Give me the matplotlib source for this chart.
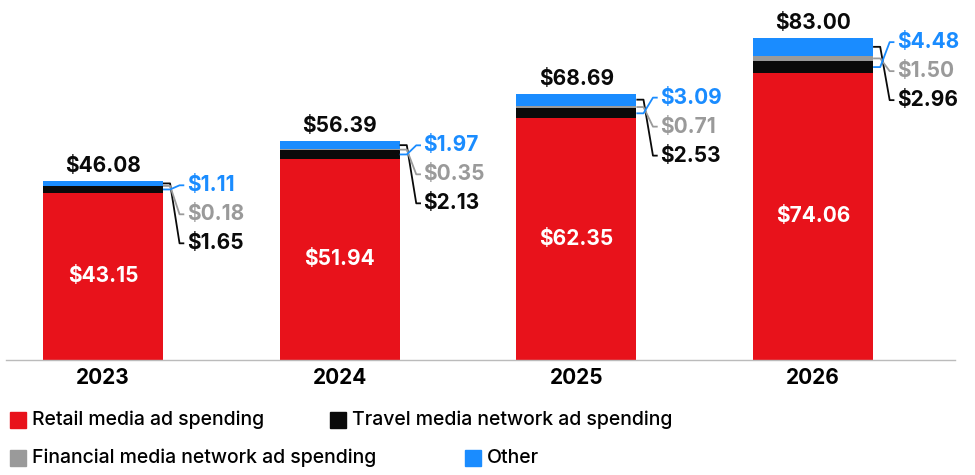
import matplotlib
matplotlib.use("Agg")
import matplotlib.pyplot as plt
from matplotlib.patches import Rectangle

years = ["2023", "2024", "2025", "2026"]
retail = [43.15, 51.94, 62.35, 74.06]
travel = [1.65, 2.13, 2.53, 2.96]
financial = [0.18, 0.35, 0.71, 1.50]
other = [1.11, 1.97, 3.09, 4.48]
totals = [46.08, 56.39, 68.69, 83.00]

RED, BLK, GRY, BLU = "#E8121B", "#0a0a0a", "#9a9a9a", "#1A8CFF"
FONT = "Inter"

fig = plt.figure(figsize=(9.75, 4.75), dpi=100)
ax = fig.add_axes([0, 1 - 360 / 475, 1, 349 / 475])
ax.set_xlim(-0.435, 3.684)
ax.set_ylim(0, 90)
ax.axis("off")
W = 0.507
upp = 90 / 349  # data units per pixel

for i, y in enumerate(years):
    b = 0
    segs = []
    for v, c in [(retail[i], RED), (travel[i], BLK), (financial[i], GRY), (other[i], BLU)]:
        ax.bar(i, v, W, bottom=b, color=c, linewidth=0)
        segs.append((b + v / 2, c, v))
        b += v
    ax.text(i, retail[i] / 2, f"${retail[i]:.2f}", color="white", ha="center", va="center",
            fontsize=15, fontweight="bold", family=FONT)
    ax.text(i, totals[i] + 5 * upp, f"${totals[i]:.2f}", color=BLK, ha="center", va="bottom",
            fontsize=15, fontweight="bold", family=FONT)
    ax.text(i, -8 * upp, y, ha="center", va="top", fontsize=15, fontweight="bold", family=FONT)
    edge = i + W / 2
    offs = [(3, 62, travel[i], BLK), (2, 33, financial[i], GRY), (1, 4, other[i], BLU)]
    for k, off, v, c in offs:
        my = segs[k][0]
        ly = totals[i] - off * upp
        ax.plot([edge, edge + 0.03, edge + 0.07, edge + 0.09], [my, my, ly, ly],
                color=c, lw=1.3, solid_capstyle="butt")
        ax.text(edge + 0.1, ly, f"${v:.2f}", color=c, ha="left", va="center",
                fontsize=15, fontweight="bold", family=FONT)

ax.plot([-0.41, 3.6], [0, 0], color="#bbbbbb", lw=1, clip_on=False)

def leg(xp, yp, c, label):
    fig.patches.append(Rectangle((xp / 975, 1 - (yp + 8) / 475), 16 / 975, 16 / 475,
                                 color=c, transform=fig.transFigure, figure=fig))
    fig.text((xp + 22) / 975, 1 - yp / 475, label, va="center", ha="left",
             fontsize=14, fontweight="medium", family=FONT)

leg(10, 420, RED, "Retail media ad spending")
leg(330, 420, BLK, "Travel media network ad spending")
leg(10, 458, GRY, "Financial media network ad spending")
leg(465, 458, BLU, "Other")

fig.savefig("out.png", dpi=100)
